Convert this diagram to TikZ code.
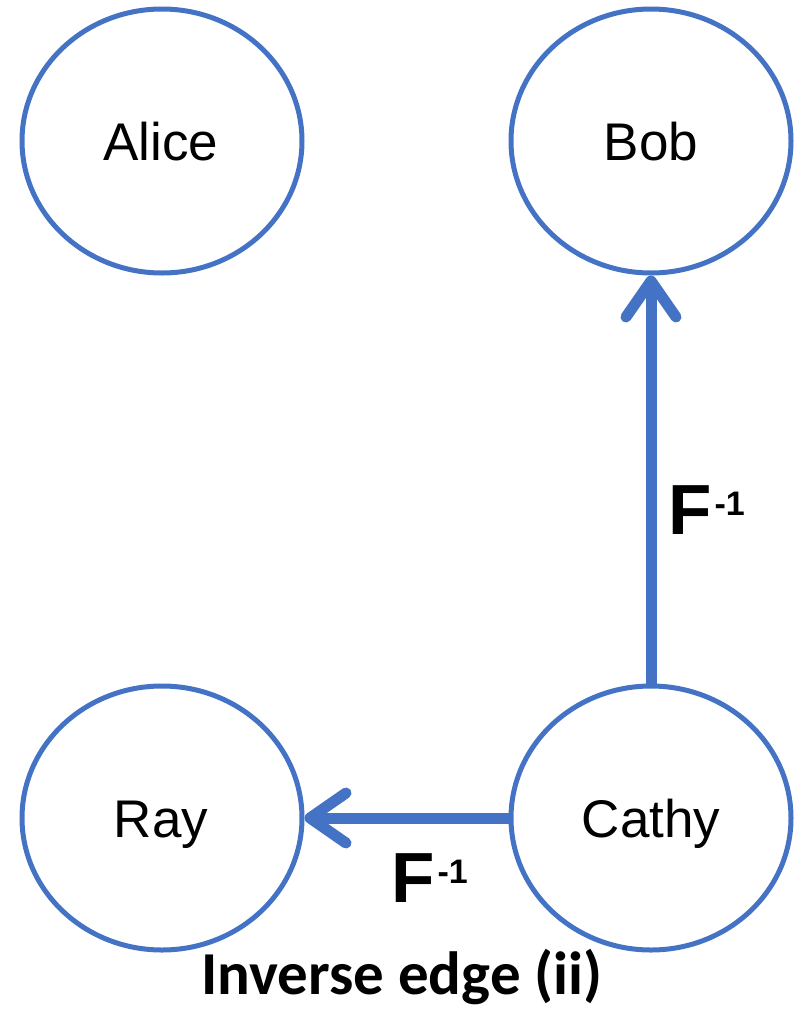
\documentclass[tikz,border=0pt]{standalone}
\usepackage{fontspec}
\setmainfont{Liberation Sans}
\newfontfamily\captionfont{Carlito}
\usetikzlibrary{shapes.geometric,arrows.meta}
\definecolor{nodeblue}{HTML}{4472C4}
\tikzset{
  person/.style={ellipse, draw=nodeblue, line width=5pt, minimum width=280pt,
    minimum height=264pt, inner sep=0pt, fill=white},
  personname/.style={anchor=base, inner sep=0pt, font=\fontsize{53}{60}\selectfont},
  inverse/.style={draw=nodeblue, line width=11pt,
    -{Straight Barb[length=36pt, width=50pt, round]}},
  invlabel/.style={anchor=base west, inner sep=0pt, font=\bfseries\fontsize{71}{71}\selectfont},
  caption/.style={anchor=base, inner sep=0pt, font=\captionfont\bfseries\fontsize{61}{64}\selectfont}
}
\newcommand{\invF}{F\hspace{3pt}\raisebox{19pt}{\fontsize{34}{34}\selectfont -1}}
\begin{document}
\begin{tikzpicture}[x=1pt, y=-1pt]
  \useasboundingbox (0,0) rectangle (801,1010);
  % people
  \node[person] (alice) at (162,141) {};
  \node[person] (bob)   at (651,141) {};
  \node[person] (ray)   at (162,818) {};
  \node[person] (cathy) at (651,818) {};
  \node[personname] (alicet) at (161,160) {Alice};
  \node[personname] (bobt)   at (651,160) {Bob};
  \node[personname] (rayt)   at (161,837) {Ray};
  \node[personname] (cathyt) at (651,837) {Cathy};
  % inverse edges
  \draw[inverse] (cathy.north) -- (bob.south);
  \draw[inverse] (cathy.west) -- (ray.east);
  \node[invlabel] (lab1) at (668,534) {\invF};
  \node[invlabel] (lab2) at (391,902) {\invF};
  % caption
  \node[caption] (cap) at (402,994) {Inverse edge (ii)};
\end{tikzpicture}
\end{document}
